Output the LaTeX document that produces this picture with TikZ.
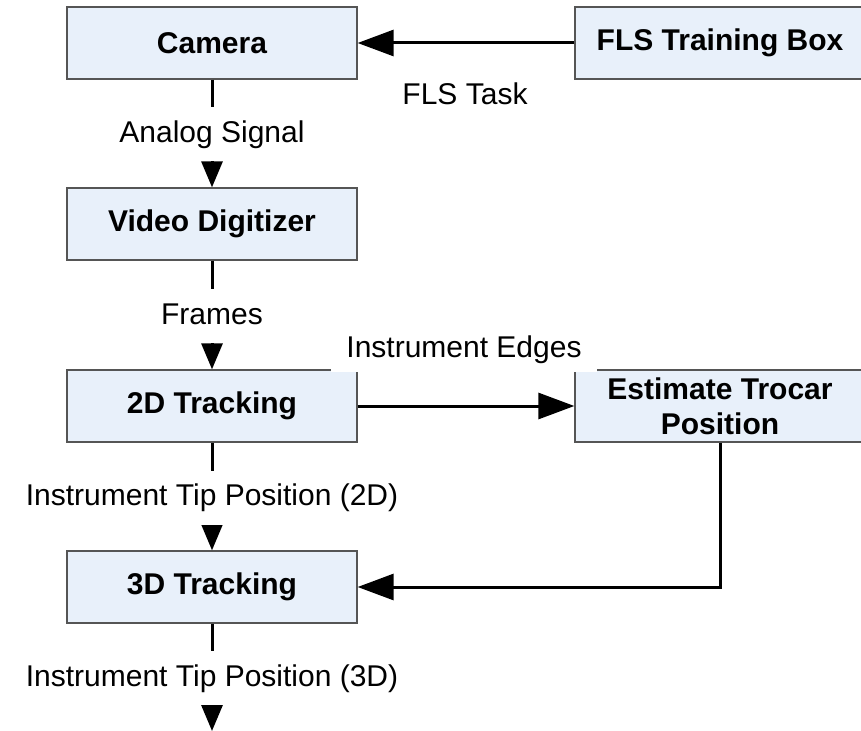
\documentclass[tikz,border=0pt]{standalone}
\usepackage{fontspec}
\setmainfont{Liberation Sans}
\usetikzlibrary{arrows.meta}
\definecolor{boxfill}{RGB}{232,240,250}
\definecolor{boxline}{RGB}{85,85,85}
\begin{document}
\begin{tikzpicture}[x=1pt,y=-1pt,
  blk/.style={draw=boxline,fill=boxfill,line width=1.3pt,minimum width=290pt,minimum height=72pt,
    font=\fontsize{30}{36}\selectfont\bfseries,inner sep=0pt,align=center},
  lbl/.style={font=\fontsize{30}{36}\selectfont,text height=22pt,text depth=6pt},
  wlbl/.style={lbl,fill=white,inner ysep=13pt,inner xsep=6pt},
  conn/.style={line width=3pt},
  vtip/.style={-{Triangle[length=26pt,width=21pt]}},
  htip/.style={-{Triangle[length=36pt,width=26pt]}}]
\useasboundingbox (0,0) rectangle (861,730);
\clip (0,0) rectangle (861,730);
\node[blk] (cam) at (212,43) {Camera};
\node[blk] (fls) at (720,43) {FLS Training Box};
\node[blk] (vd) at (212,224) {Video Digitizer};
\node[blk] (t2) at (212,406) {2D Tracking};
\node[blk] (est) at (720,406) {Estimate Trocar\\[-1pt]Position};
\node[blk] (t3) at (212,587) {3D Tracking};
\coordinate (out) at (212,731);
% connectors
\draw[conn,htip] (fls) -- (cam);
\node[lbl] (flstask) at (465,97) {FLS Task};
\draw[conn,vtip] (cam) -- (vd) node[midway,wlbl,yshift=-1pt] {Analog Signal};
\draw[conn,vtip] (vd) -- (t2) node[midway,wlbl,yshift=-1pt] {Frames};
\draw[conn,htip] (t2) -- (est);
\node[lbl,fill=white,inner xsep=15pt,inner ysep=9pt,anchor=base] (edges) at (464,357) {Instrument Edges};
\draw[conn,vtip] (t2) -- (t3) node[midway,wlbl,yshift=-1pt] {Instrument Tip Position (2D)};
\draw[conn,htip] (est.south) |- (t3.east);
\draw[conn,vtip] (t3) -- (out) node[pos=0.5,wlbl,yshift=-1pt] {Instrument Tip Position (3D)};
\end{tikzpicture}
\end{document}
